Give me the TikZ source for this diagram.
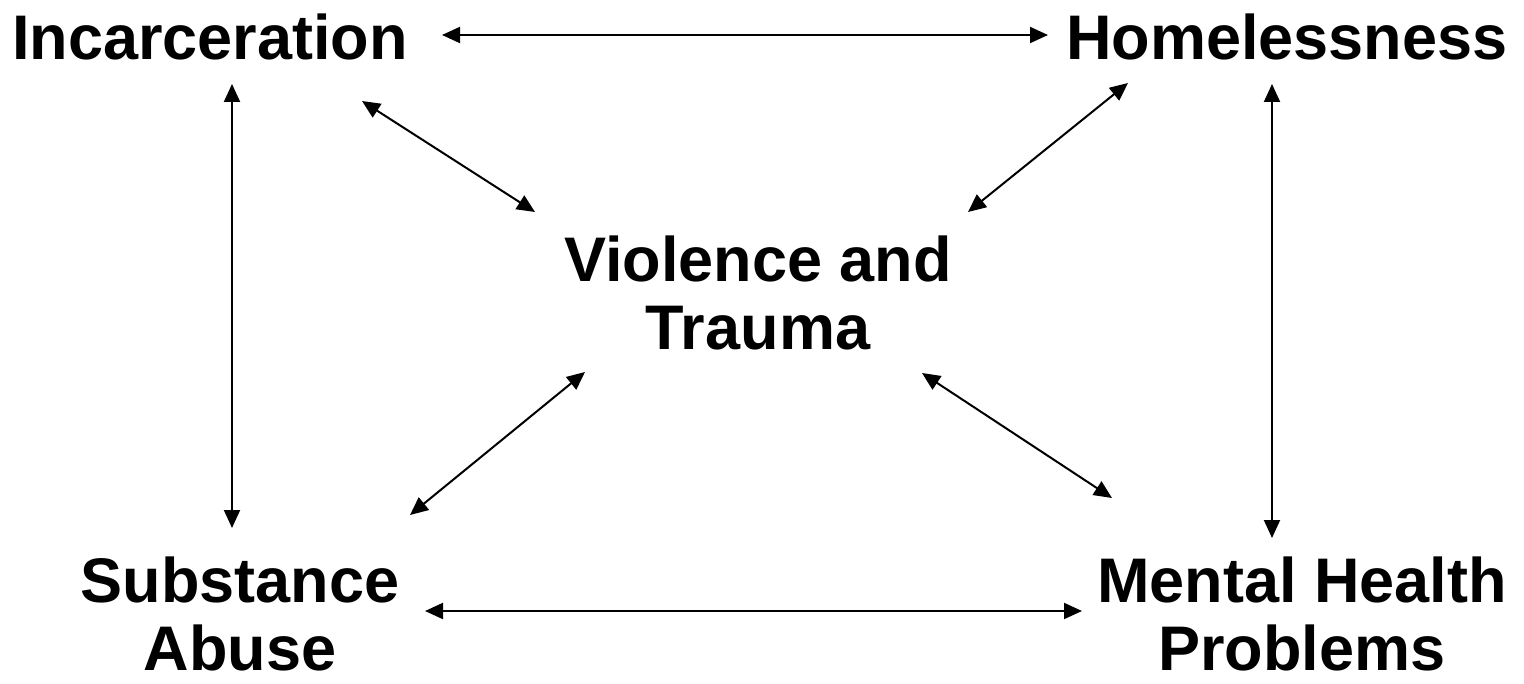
\documentclass[tikz,border=0pt]{standalone}
\usepackage{fontspec}
\setmainfont{Liberation Sans}
\usetikzlibrary{arrows.meta}
\begin{document}
\begin{tikzpicture}[x=1pt,y=-1pt,
  lbl/.style={font=\bfseries\fontsize{63}{68}\selectfont, inner sep=0pt, anchor=base, align=center},
  link/.style={line width=2pt, {Triangle[length=18pt,width=16pt]}-{Triangle[length=18pt,width=16pt]}}]
\useasboundingbox (0,0) rectangle (1524,684);
\node[lbl] (inc) at (210,60) {Incarceration};
\node[lbl] (hom) at (1287,60) {Homelessness};
\node[lbl] (vio) at (758,350) {Violence and\\Trauma};
\node[lbl] (sub) at (240,670) {Substance\\Abuse};
\node[lbl] (men) at (1302,670) {Mental Health\\Problems};
\draw[link] ([shift={(232,-25)}]inc.base) -- ([shift={(-239,-25)}]hom.base);
\draw[link] ([shift={(22,24)}]inc.base) -- ([shift={(-8,-142)}]sub.base);
\draw[link] ([shift={(-15,24)}]hom.base) -- ([shift={(-30,-132)}]men.base);
\draw[link] ([shift={(152,41)}]inc.base) -- ([shift={(-223,-138)}]vio.base);
\draw[link] ([shift={(-159,23)}]hom.base) -- ([shift={(210,-138)}]vio.base);
\draw[link] ([shift={(170,-155)}]sub.base) -- ([shift={(-173,22)}]vio.base);
\draw[link] ([shift={(164,23)}]vio.base) -- ([shift={(-190,-172)}]men.base);
\draw[link] ([shift={(185,-59)}]sub.base) -- ([shift={(-220,-59)}]men.base);
\end{tikzpicture}
\end{document}
